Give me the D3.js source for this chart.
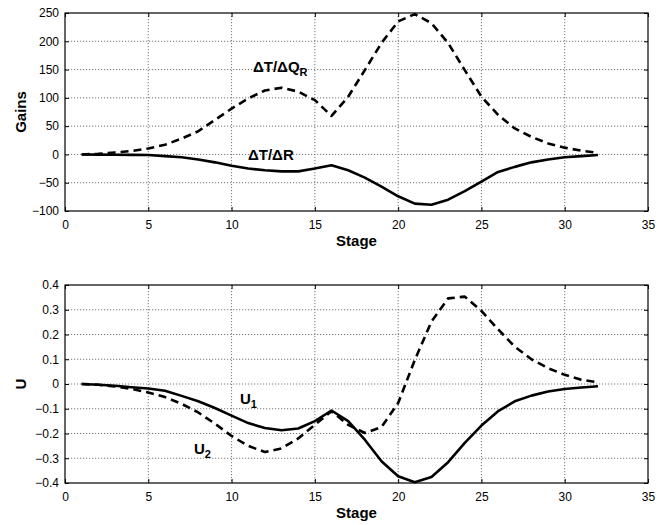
<!DOCTYPE html>
<html>
<head>
<meta charset="utf-8">
<script src="https://cdn.jsdelivr.net/npm/d3@7"></script>
<style>
  body { margin: 0; background: #fff; }
  svg { display: block; font-family: "Liberation Sans", Arial, sans-serif; }
  .tick text { font-size: 12px; fill: #000; }
  .grid line { stroke: #555; stroke-width: 0.8; stroke-dasharray: 1.2 1.8; }
  .lbl { font-weight: bold; fill: #000; }
</style>
</head>
<body>
<svg id="chart" width="665" height="525"></svg>
<script>
// Stage numbers along the column
const stages = d3.range(1, 33);

// Upper panel: temperature gains
const gainQR = [0, 1, 3.5, 6, 10.6, 17, 28, 41, 61, 81, 99, 113, 118, 111, 96, 68,
                102, 149, 197, 235, 248, 232, 197, 149, 102, 70, 46, 31, 19.5, 12, 6.5, 3];
const gainR  = [0, -0.3, -0.5, -0.8, -1, -3, -5, -9, -14, -20, -25, -28, -30, -30, -25, -19,
                -28, -41, -57, -74, -87, -89, -80, -65, -48, -31, -22, -14, -9, -5, -3, -1];

// Lower panel: singular vectors
const u1 = [0, -0.003, -0.007, -0.013, -0.018, -0.027, -0.048, -0.07, -0.097, -0.128, -0.158, -0.178,
            -0.187, -0.18, -0.15, -0.107, -0.15, -0.225, -0.312, -0.373, -0.397, -0.376, -0.316,
            -0.238, -0.168, -0.11, -0.07, -0.047, -0.03, -0.02, -0.014, -0.009];
const u2 = [0, -0.003, -0.01, -0.02, -0.034, -0.053, -0.08, -0.115, -0.16, -0.21, -0.25, -0.275,
            -0.26, -0.22, -0.165, -0.11, -0.165, -0.198, -0.174, -0.077, 0.097, 0.252, 0.346,
            0.353, 0.295, 0.221, 0.151, 0.1, 0.064, 0.037, 0.017, 0.007];

const xTicks = [0, 5, 10, 15, 20, 25, 30, 35];
const gainTicks = [-100, -50, 0, 50, 100, 150, 200, 250];
const uTicks = [-0.4, -0.3, -0.2, -0.1, 0, 0.1, 0.2, 0.3, 0.4];

const svg = d3.select("#chart");
const left = 65, right = 648;

function panel(cfg) {
  const x = d3.scaleLinear().domain([0, 35]).range([left, right]);
  const y = d3.scaleLinear().domain(cfg.domain).range([cfg.bottom, cfg.top]);
  const g = svg.append("g");

  // dotted grid
  g.append("g").attr("class", "grid")
    .selectAll("line.v").data(xTicks.slice(1, -1)).join("line")
    .attr("x1", d => x(d)).attr("x2", d => x(d))
    .attr("y1", cfg.top).attr("y2", cfg.bottom);
  g.append("g").attr("class", "grid")
    .selectAll("line.h").data(cfg.yTicks.slice(1, -1)).join("line")
    .attr("x1", left).attr("x2", right)
    .attr("y1", d => y(d)).attr("y2", d => y(d));

  // axes with inward ticks
  g.append("g").attr("transform", `translate(0,${cfg.bottom})`)
    .call(d3.axisBottom(x).tickValues(xTicks).tickSize(-4).tickPadding(9).tickFormat(d3.format("d")))
    .call(a => a.select(".domain").remove());
  g.append("g").attr("transform", `translate(${left},0)`)
    .call(d3.axisLeft(y).tickValues(cfg.yTicks).tickSize(-4).tickPadding(6).tickFormat(cfg.fmt))
    .call(a => a.select(".domain").remove());
  g.append("g").attr("transform", `translate(${right},0)`)
    .call(d3.axisRight(y).tickValues(cfg.yTicks).tickSize(-4).tickFormat(""))
    .call(a => a.select(".domain").remove());
  g.append("g").attr("transform", `translate(0,${cfg.top})`)
    .call(d3.axisTop(x).tickValues(xTicks).tickSize(-4).tickFormat(""))
    .call(a => a.select(".domain").remove());
  g.selectAll(".tick line").attr("stroke", "#000");

  g.append("rect").attr("x", left).attr("y", cfg.top)
    .attr("width", right - left).attr("height", cfg.bottom - cfg.top)
    .attr("fill", "none").attr("stroke", "#000").attr("stroke-width", 1.2);

  const line = d3.line().x((d, i) => x(stages[i])).y(d => y(d));
  cfg.series.forEach(s => {
    g.append("path").datum(s.values)
      .attr("d", line).attr("fill", "none").attr("stroke", "#000")
      .attr("stroke-width", 2.6).attr("stroke-linejoin", "round")
      .attr("stroke-dasharray", s.dashed ? "8,5" : null);
  });

  g.append("text").attr("class", "lbl").attr("x", (left + right) / 2).attr("y", cfg.bottom + 35)
    .attr("text-anchor", "middle").attr("font-size", 15).text("Stage");
  g.append("text").attr("class", "lbl")
    .attr("transform", `translate(26,${(cfg.top + cfg.bottom) / 2}) rotate(-90)`)
    .attr("text-anchor", "middle").attr("font-size", 15).text(cfg.ylabel);
  return { g, x, y };
}

const gainPanel = panel({
  domain: [-100, 250], top: 13, bottom: 211, yTicks: gainTicks, fmt: d3.format("d"),
  ylabel: "Gains",
  series: [{ values: gainQR, dashed: true }, { values: gainR, dashed: false }]
});
const uPanel = panel({
  domain: [-0.4, 0.4], top: 285, bottom: 483, yTicks: uTicks, fmt: d => d === 0 ? "0" : d3.format(".1f")(d),
  ylabel: "U",
  series: [{ values: u2, dashed: true }, { values: u1, dashed: false }]
});

// curve labels
const t1 = gainPanel.g.append("text").attr("class", "lbl").attr("font-size", 15)
  .attr("x", 253).attr("y", 72);
t1.append("tspan").text("ΔT/ΔQ");
t1.append("tspan").attr("font-size", 11).attr("dy", 4).text("R");
gainPanel.g.append("text").attr("class", "lbl").attr("font-size", 15)
  .attr("x", 248).attr("y", 160).text("ΔT/ΔR");

const l1 = uPanel.g.append("text").attr("class", "lbl").attr("font-size", 15)
  .attr("x", 240).attr("y", 404);
l1.append("tspan").text("U");
l1.append("tspan").attr("font-size", 11).attr("dy", 4).text("1");
const l2 = uPanel.g.append("text").attr("class", "lbl").attr("font-size", 15)
  .attr("x", 194).attr("y", 454);
l2.append("tspan").text("U");
l2.append("tspan").attr("font-size", 11).attr("dy", 4).text("2");
</script>
</body>
</html>
